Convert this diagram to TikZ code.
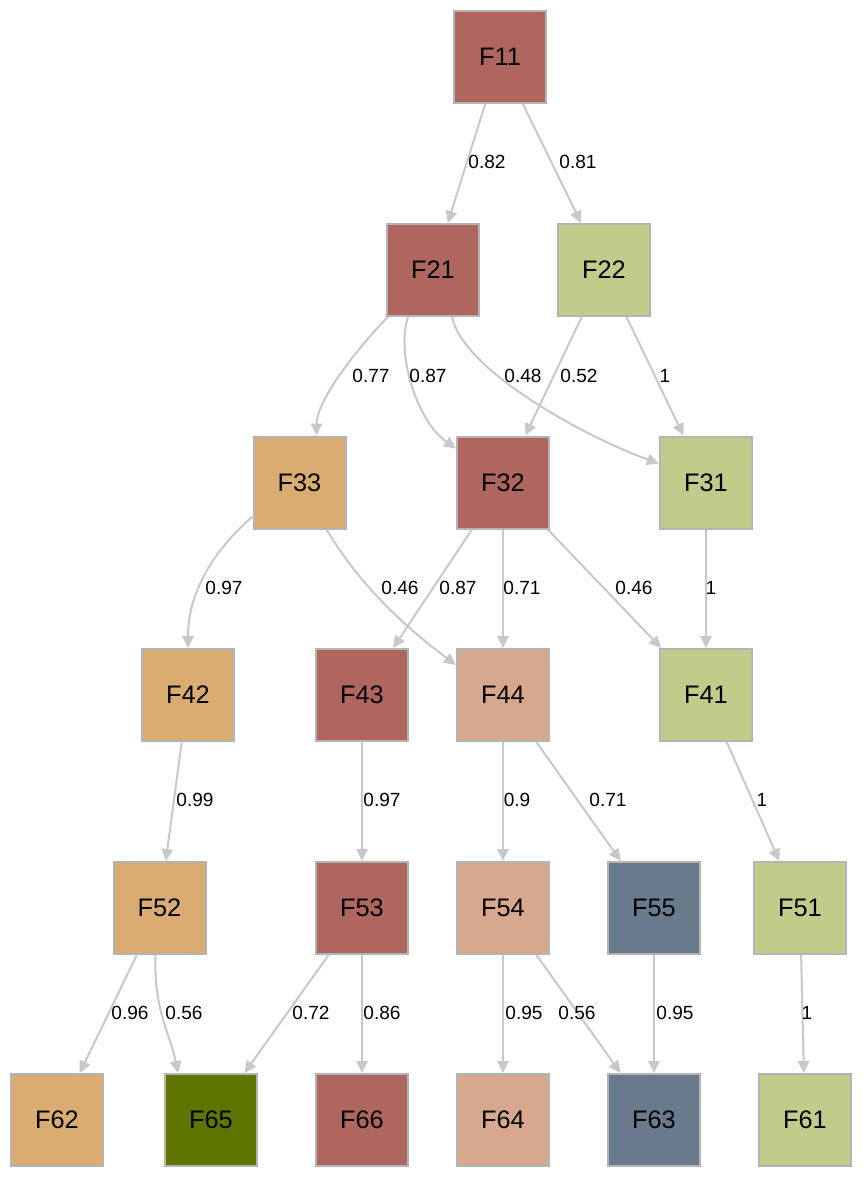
\documentclass[tikz,border=0pt]{standalone}
\usepackage{fontspec}
\setmainfont{Liberation Sans}
\usetikzlibrary{arrows.meta,calc}
\definecolor{cred}{RGB}{175,102,95}
\definecolor{cgreen}{RGB}{194,203,138}
\definecolor{corange}{RGB}{218,172,114}
\definecolor{csalmon}{RGB}{216,168,142}
\definecolor{cslate}{RGB}{104,122,140}
\definecolor{colive}{RGB}{94,117,0}
\definecolor{cborder}{RGB}{180,180,180}
\definecolor{cedge}{RGB}{200,200,200}
\tikzset{
  box/.style={draw=cborder, line width=1.5pt, minimum size=69pt, inner sep=0pt,
    font=\fontsize{19}{22}\selectfont},
  edge/.style={draw=cedge, line width=1.5pt, -{Triangle[length=9pt,width=8.5pt]}},
  lbl/.style={font=\fontsize{14.3}{16}\selectfont, inner sep=0pt}
}
\begin{document}
\begin{tikzpicture}[x=0.75pt,y=-0.75pt]
\useasboundingbox (0,0) rectangle (863,1178);
% nodes
\node[box,fill=cred]   (F11) at (500,57)  {F11};
\node[box,fill=cred]   (F21) at (433,270) {F21};
\node[box,fill=cgreen] (F22) at (604,270) {F22};
\node[box,fill=corange](F33) at (299.5,482.5) {F33};
\node[box,fill=cred]   (F32) at (503,482.5) {F32};
\node[box,fill=cgreen] (F31) at (706,482.5) {F31};
\node[box,fill=corange](F42) at (188,695) {F42};
\node[box,fill=cred]   (F43) at (362,695) {F43};
\node[box,fill=csalmon](F44) at (503,695) {F44};
\node[box,fill=cgreen] (F41) at (706,695) {F41};
\node[box,fill=corange](F52) at (159.5,908) {F52};
\node[box,fill=cred]   (F53) at (362,908) {F53};
\node[box,fill=csalmon](F54) at (503,908) {F54};
\node[box,fill=cslate] (F55) at (654,908) {F55};
\node[box,fill=cgreen] (F51) at (800,908) {F51};
\node[box,fill=corange](F62) at (57,1120) {F62};
\node[box,fill=colive] (F65) at (211,1120) {F65};
\node[box,fill=cred]   (F66) at (362,1120) {F66};
\node[box,fill=csalmon](F64) at (503,1120) {F64};
\node[box,fill=cslate] (F63) at (654,1120) {F63};
\node[box,fill=cgreen] (F61) at (805,1120) {F61};
% edges
\draw[edge] (F11) -- (F21);
\draw[edge] (F11) -- (F22);
\draw[edge] ($(F21.south west)+(2,0)$) .. controls +(-30,30) and +(0,-35) .. ($(F33.north)+(17,0)$);
\draw[edge] ($(F21.south)+(-25,0)$) .. controls +(-12,35) and +(-40,-28) .. ($(F32.north west)+(0,13)$);
\draw[edge] ($(F21.south)+(19,0)$) .. controls +(12,55) and +(-70,-25) .. ($(F31.north west)+(0,28)$);
\draw[edge] (F22) -- (F32);
\draw[edge] (F22) -- (F31);
\draw[edge] ($(F33.south west)+(0,-13)$) .. controls +(-40,35) and +(0,-55) .. (F42.north);
\draw[edge] ($(F33.south)+(27,0)$) .. controls +(30,50) and +(-60,-45) .. ($(F44.north west)+(0,17)$);
\draw[edge] (F32) -- (F43);
\draw[edge] (F32) -- (F44);
\draw[edge] (F32) -- (F41);
\draw[edge] (F31) -- (F41);
\draw[edge] (F42) -- (F52);
\draw[edge] (F43) -- (F53);
\draw[edge] (F44) -- (F54);
\draw[edge] (F44) -- (F55);
\draw[edge] (F41) -- (F51);
\draw[edge] (F52) -- (F62);
\draw[edge] ($(F52.south)+(-4,0)$) .. controls +(-2,55) and +(-8,-40) .. ($(F65.north)+(-33,0)$);
\draw[edge] (F53) -- (F65);
\draw[edge] (F53) -- (F66);
\draw[edge] (F54) -- (F64);
\draw[edge] (F54) -- (F63);
\draw[edge] (F55) -- (F63);
\draw[edge] (F51) -- (F61);
% labels
\node[lbl] (l1)  at (487,162)  {0.82};
\node[lbl] (l2)  at (578,162)  {0.81};
\node[lbl] (l3)  at (371,376)  {0.77};
\node[lbl] (l4)  at (428,376)  {0.87};
\node[lbl] (l5)  at (523,376)  {0.48};
\node[lbl] (l6)  at (579,376)  {0.52};
\node[lbl] (l7)  at (665,376)  {1};
\node[lbl] (l8)  at (224,588)  {0.97};
\node[lbl] (l9)  at (400,588)  {0.46};
\node[lbl] (l10) at (458,588)  {0.87};
\node[lbl] (l11) at (522,588)  {0.71};
\node[lbl] (l12) at (634,588)  {0.46};
\node[lbl] (l13) at (711,588)  {1};
\node[lbl] (l14) at (195,800)  {0.99};
\node[lbl] (l15) at (382,800)  {0.97};
\node[lbl] (l16) at (517,800)  {0.9};
\node[lbl] (l17) at (608,800)  {0.71};
\node[lbl] (l18) at (762,800)  {1};
\node[lbl] (l19) at (130,1013) {0.96};
\node[lbl] (l20) at (184,1013) {0.56};
\node[lbl] (l21) at (311,1013) {0.72};
\node[lbl] (l22) at (382,1013) {0.86};
\node[lbl] (l23) at (524,1013) {0.95};
\node[lbl] (l24) at (577,1013) {0.56};
\node[lbl] (l25) at (675,1013) {0.95};
\node[lbl] (l26) at (807,1013) {1};
\end{tikzpicture}
\end{document}
